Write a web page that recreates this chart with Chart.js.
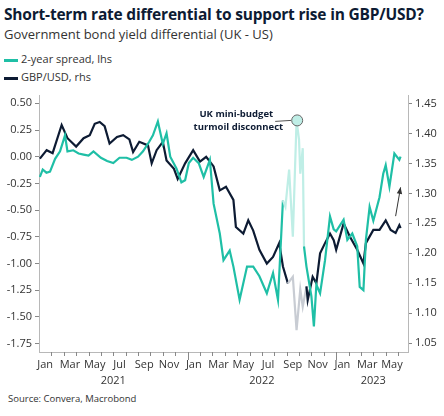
<!DOCTYPE html>
<html>
<head>
<meta charset="utf-8">
<script src="https://cdn.jsdelivr.net/npm/chart.js@4"></script>
<style>
  body { margin: 0; width: 444px; height: 416px; background: #fff; font-family: "Open Sans", sans-serif; position: relative; overflow: hidden; }
  .title { position: absolute; left: 4px; top: 3px; font-size: 15.5px; font-weight: bold; color: #0d1b33; letter-spacing: -0.2px; }
  .sub { position: absolute; left: 4px; top: 25px; font-size: 13px; color: #333; }
  .leg { position: absolute; left: 4px; font-size: 11px; color: #333; }
  .leg span { display: inline-block; width: 14px; height: 3px; vertical-align: middle; margin-right: 3px; }
  .src { position: absolute; left: 8px; top: 392px; font-size: 9.5px; color: #333; }
  #wrap { position: absolute; left: 0; top: 80px; width: 444px; height: 310px; }
</style>
</head>
<body>
<div class="title">Short-term rate differential to support rise in GBP/USD?</div>
<div class="sub">Government bond yield differential (UK - US)</div>
<div class="leg" style="top:51px"><span style="background:#1fbfa6"></span>2-year spread, lhs</div>
<div class="leg" style="top:69px"><span style="background:#0d1b33"></span>GBP/USD, rhs</div>
<div class="src">Source: Convera, Macrobond</div>
<div id="wrap"><canvas id="myChart"></canvas></div>
<script>
// x = months since Jan 2021
const spreadX = [0.07,0.3,0.6,0.89,1.3,1.7,2.1,2.3,2.77,3.2,3.6,4.0,4.4,5.0,5.5,6.0,6.5,7.07,7.5,8.0,8.4,8.9,9.2,9.6,10.0,10.3,10.6,11.1,11.5,11.8,12.1,12.45,12.9,13.3,13.8,14.1,14.6,14.9,15.4,15.7,16.2,16.8,17.3,17.8,18.4,18.9,19.3,19.7,19.9,20.2,20.5,20.8,21.0,21.1,21.3,21.4,21.6,22.0,22.2,22.4,22.7,23.1,23.5,23.8,24.0,24.6,24.9,25.3,25.7,25.9,26.2,26.4,26.7,27.0,27.5,27.8,28.0,28.3,28.7,29.1,29.2];
const spreadY = [-0.19,-0.12,-0.15,-0.14,-0.02,0.05,0.20,0.05,0.06,0.03,0.02,0.01,0.05,-0.01,-0.04,-0.06,-0.01,-0.01,-0.03,0.00,0.05,0.14,0.20,0.33,0.12,0.22,0.00,-0.11,-0.24,-0.22,-0.06,-0.01,-0.06,-0.19,-0.03,-0.44,-0.72,-0.97,-0.88,-1.03,-1.34,-1.03,-1.03,-1.12,-1.28,-1.09,-1.34,-0.41,-0.47,-0.12,-0.75,0.34,0.16,-0.16,0.08,-0.84,-1.03,-1.31,-1.59,-1.20,-1.28,-0.97,-0.56,-0.68,-0.70,-0.59,-0.78,-0.72,-0.84,-1.22,-1.25,-0.78,-0.47,-0.60,-0.38,-0.16,-0.08,-0.28,0.03,-0.03,0.00];
const gbpX = [0.07,0.62,1.1,1.83,2.3,3.0,3.6,4.1,4.5,4.9,5.3,5.7,6.3,6.8,7.3,7.6,8.1,8.8,9.1,9.5,10.0,10.3,10.9,11.2,11.8,12.45,13.0,13.5,14.1,14.6,15.1,15.7,15.9,16.5,16.9,17.3,17.8,18.4,18.9,19.4,19.7,20.1,20.5,20.8,21.1,21.3,21.6,21.7,22.1,22.4,22.7,23.1,23.5,23.8,24.0,24.6,25.1,25.7,26.2,26.4,27.0,27.5,28.0,28.4,28.8,29.1,29.2];
const gbpY = [1.358,1.372,1.367,1.414,1.392,1.378,1.392,1.397,1.416,1.419,1.412,1.383,1.394,1.397,1.390,1.369,1.386,1.380,1.350,1.372,1.386,1.355,1.341,1.324,1.350,1.372,1.353,1.361,1.345,1.305,1.311,1.289,1.244,1.233,1.255,1.238,1.206,1.183,1.194,1.217,1.178,1.150,1.161,1.072,1.140,1.111,1.145,1.122,1.161,1.150,1.200,1.217,1.233,1.222,1.206,1.250,1.228,1.206,1.183,1.217,1.239,1.239,1.255,1.239,1.234,1.247,1.242];
const monthNames = ['Jan','Mar','May','Jul','Sep','Nov'];
const years = [['2021', 6], ['2022', 18], ['2023', 27]];
const leftTicks = [0.5,0.25,0,-0.25,-0.5,-0.75,-1,-1.25,-1.5,-1.75];
const rightTicks = [1.45,1.40,1.35,1.30,1.25,1.20,1.15,1.10,1.05];

const pale = (a, b, c1, c2) => ctx => {
  const x = ctx.p0.parsed.x;
  return (x >= a && x < b) ? c2 : c1;
};

const toPts = (xs, ys) => xs.map((x, i) => ({ x: x, y: ys[i] }));

const overlay = {
  id: 'overlay',
  afterDraw(chart) {
    const c = chart.ctx, a = chart.chartArea, x = chart.scales.x;
    c.save();
    c.strokeStyle = '#b8b8b8'; c.lineWidth = 1;
    c.beginPath(); c.moveTo(a.left, a.bottom + 0.5); c.lineTo(a.right, a.bottom + 0.5); c.stroke();
    c.strokeStyle = '#888';
    for (let m = 1; m <= 29; m++) {
      const px = Math.round(x.getPixelForValue(m)) + 0.5;
      const len = (m % 12 === 0) ? 8 : 4;
      c.beginPath(); c.moveTo(px, a.bottom); c.lineTo(px, a.bottom + len); c.stroke();
    }
    c.fillStyle = '#333'; c.font = '11px "Open Sans"'; c.textAlign = 'center'; c.textBaseline = 'middle';
    for (let m = 0; m < 30; m += 2) {
      c.fillText(monthNames[(m % 12) / 2], x.getPixelForValue(m + 0.5), a.bottom + 13);
    }
    years.forEach(([t, m]) => c.fillText(t, x.getPixelForValue(m), a.bottom + 29));
    // annotation
    const yl = chart.scales.y;
    const cx = x.getPixelForValue(20.85), cy = yl.getPixelForValue(0.34);
    c.strokeStyle = '#555'; c.beginPath(); c.moveTo(cx - 6, cy); c.lineTo(cx - 22, cy + 1); c.stroke();
    c.fillStyle = '#bfeee6'; c.beginPath(); c.arc(cx, cy, 5.5, 0, Math.PI * 2); c.fill();
    c.strokeStyle = '#666'; c.stroke();
    c.fillStyle = '#0d1b33'; c.font = 'bold 9.5px "Open Sans"'; c.textAlign = 'right';
    c.fillText('UK mini-budget', cx - 24, cy - 6);
    c.fillText('turmoil disconnect', cx - 14, cy + 7);
    // arrow
    const yr = chart.scales.y1;
    const x0 = x.getPixelForValue(28.8), y0 = yr.getPixelForValue(1.262);
    const x1 = x.getPixelForValue(29.2), y1 = yr.getPixelForValue(1.31);
    c.strokeStyle = '#333'; c.beginPath(); c.moveTo(x0, y0); c.lineTo(x1, y1); c.stroke();
    const ang = Math.atan2(y1 - y0, x1 - x0);
    c.fillStyle = '#333'; c.beginPath(); c.moveTo(x1, y1);
    c.lineTo(x1 - 7 * Math.cos(ang - 0.4), y1 - 7 * Math.sin(ang - 0.4));
    c.lineTo(x1 - 7 * Math.cos(ang + 0.4), y1 - 7 * Math.sin(ang + 0.4));
    c.closePath(); c.fill();
    c.restore();
  }
};

const tickFont = { family: 'Open Sans', size: 11 };

new Chart(document.getElementById('myChart'), {
  type: 'line',
  data: {
    datasets: [
      {
        label: '2-year spread, lhs', data: toPts(spreadX, spreadY), yAxisID: 'y',
        borderColor: '#1fbfa6', borderWidth: 2.2, pointRadius: 0, tension: 0,
        segment: { borderColor: pale(19.7, 21.4, '#1fbfa6', '#bfeee6') }
      },
      {
        label: 'GBP/USD, rhs', data: toPts(gbpX, gbpY), yAxisID: 'y1',
        borderColor: '#0d1b33', borderWidth: 2.2, pointRadius: 0, tension: 0,
        segment: { borderColor: pale(20.1, 21.6, '#0d1b33', '#c8ccd3') }
      }
    ]
  },
  options: {
    responsive: true, maintainAspectRatio: false, animation: false,
    layout: { padding: { top: 15, bottom: 38 } },
    plugins: { legend: { display: false }, tooltip: { enabled: false } },
    scales: {
      x: { type: 'linear', min: 0, max: 29.8, display: false },
      y: {
        position: 'left', min: -1.83, max: 0.578,
        afterBuildTicks: s => { s.ticks = leftTicks.map(v => ({ value: v })); },
        afterFit: s => { s.width = 39; },
        ticks: { color: '#333', font: tickFont, padding: 3, callback: v => v.toFixed(2) },
        grid: { drawOnChartArea: false, tickLength: 4, color: '#888' },
        border: { color: '#b8b8b8' }
      },
      y1: {
        position: 'right', min: 1.0355, max: 1.464,
        afterBuildTicks: s => { s.ticks = rightTicks.map(v => ({ value: v })); },
        afterFit: s => { s.width = 36; },
        ticks: { color: '#333', font: tickFont, padding: 3, callback: v => v.toFixed(2) },
        grid: { drawOnChartArea: false, tickLength: 4, color: '#888' },
        border: { color: '#b8b8b8' }
      }
    }
  },
  plugins: [overlay]
});
</script>
</body>
</html>
